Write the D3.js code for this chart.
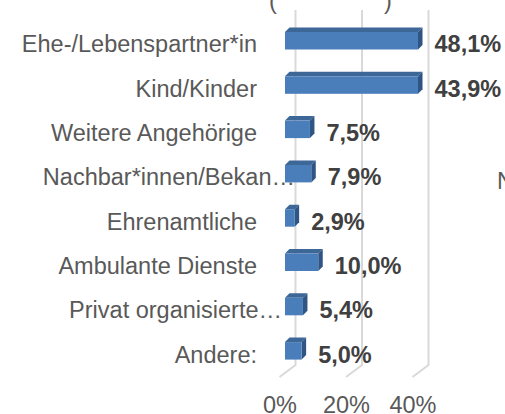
<!DOCTYPE html>
<html>
<head>
<meta charset="utf-8">
<script src="https://cdn.jsdelivr.net/npm/d3@7"></script>
<style>
  html, body { margin: 0; padding: 0; background: #ffffff; }
  svg { display: block; font-family: "Liberation Sans", Arial, sans-serif; }
</style>
</head>
<body>
<svg id="chart" width="505" height="414"></svg>
<script>
// ---- data ----
const categories = [
  "Ehe-/Lebenspartner*in",
  "Kind/Kinder",
  "Weitere Angehörige",
  "Nachbar*innen/Bekan…",
  "Ehrenamtliche",
  "Ambulante Dienste",
  "Privat organisierte…",
  "Andere:"
];
const values = [48.1, 43.9, 7.5, 7.9, 2.9, 10.0, 5.4, 5.0];
const valueLabels = ["48,1%", "43,9%", "7,5%", "7,9%", "2,9%", "10,0%", "5,4%", "5,0%"];
const tickValues = [0, 20, 40];
const tickLabels = ["0%", "20%", "40%"];
const axisMax = 40;

// ---- layout ----
const svg = d3.select("#chart");
const fontSize = 23.5;
const depthX = 4.5, depthY = 4.5;
const barH = 17.5;

const xFront = d3.scaleLinear().domain([0, axisMax]).range([285, 418]);
const xBack = d3.scaleLinear().domain([0, axisMax]).range([295.5, 428.5]);
const y = d3.scaleBand().domain(categories).range([21.85, 376.25]).paddingInner(0).paddingOuter(0);
const cy = c => y(c) + y.bandwidth() / 2;

// partial title (cropped)
svg.append("text").attr("x", 269).attr("y", 9).attr("font-size", fontSize).attr("fill", "#595959").text("(");
svg.append("text").attr("x", 384).attr("y", 9).attr("font-size", fontSize).attr("fill", "#595959").text(")");
// cropped text on right
svg.append("text").attr("x", 497).attr("y", 189).attr("font-size", fontSize).attr("fill", "#595959").text("N");

// gridlines (back wall + floor edge)
const wallTop = 10, wallBottom = 365, floorDX = -16, floorDY = 12;
svg.append("g").selectAll("path").data(tickValues).join("path")
  .attr("d", t => `M${xBack(t)},${wallTop} L${xBack(t)},${wallBottom} L${xBack(t) + floorDX},${wallBottom + floorDY}`)
  .attr("fill", "none").attr("stroke", "#d9d9d9").attr("stroke-width", 2);

// tick labels
svg.append("g").selectAll("text").data(tickValues).join("text")
  .attr("x", t => xBack(t) + floorDX + 0.5)
  .attr("y", 413)
  .attr("text-anchor", "middle")
  .attr("font-size", fontSize)
  .attr("fill", "#595959")
  .text((t, i) => tickLabels[i]);

// category labels (truncated labels overflow to the right as in the source)
const labelShift = { 3: 38, 6: 25 };
svg.append("g").selectAll("text").data(categories).join("text")
  .attr("x", (c, i) => 257 + (labelShift[i] || 0))
  .attr("y", c => cy(c) + 8.4)
  .attr("text-anchor", "end")
  .attr("font-size", fontSize)
  .attr("fill", "#595959")
  .text(c => c);

// 3D bars
const bars = svg.append("g").selectAll("g").data(categories.map((c, i) => ({ c, v: values[i], i }))).join("g");
bars.each(function(d) {
  const g = d3.select(this);
  const x0 = xFront(0);
  const x1 = xFront(Math.min(d.v, axisMax));
  const top = cy(d.c) - 12;
  const bot = top + barH;
  // top face
  g.append("path")
    .attr("d", `M${x0},${top} L${x0 + depthX},${top - depthY} L${x1 + depthX},${top - depthY} L${x1},${top} Z`)
    .attr("fill", "#3d6796");
  // side face
  g.append("path")
    .attr("d", `M${x1},${top} L${x1 + depthX},${top - depthY} L${x1 + depthX},${bot - depthY} L${x1},${bot} Z`)
    .attr("fill", "#2f5584");
  // front face
  g.append("rect")
    .attr("x", x0).attr("y", top).attr("width", x1 - x0).attr("height", barH)
    .attr("fill", "#4a7ebb");
});

// value labels
svg.append("g").selectAll("text").data(categories).join("text")
  .attr("x", (c, i) => xFront(Math.min(values[i], axisMax)) + 16.5)
  .attr("y", c => cy(c) + 8.4)
  .attr("font-size", fontSize)
  .attr("font-weight", "bold")
  .attr("fill", "#404040")
  .text((c, i) => valueLabels[i]);
</script>
</body>
</html>
